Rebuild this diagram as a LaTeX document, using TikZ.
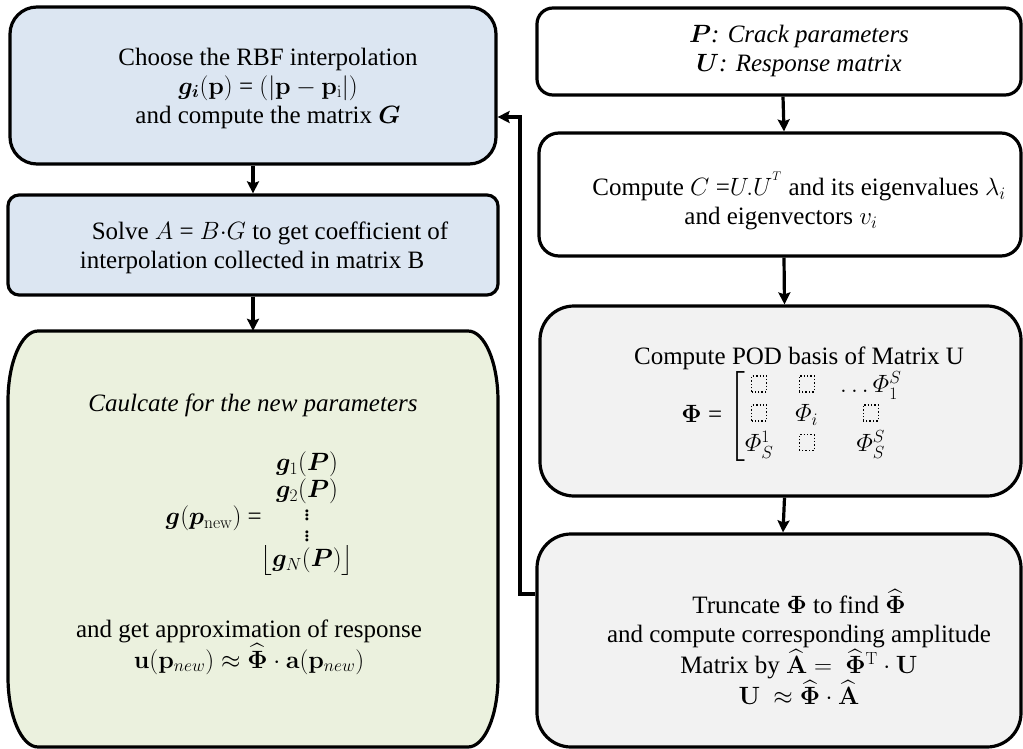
\RequirePackage{fix-cm}
\documentclass[tikz,border=0pt]{standalone}
\usepackage{amsmath,amssymb}
\usepackage{bm}
\usepackage[no-math]{fontspec}
\setmainfont{Liberation Serif}
\usetikzlibrary{arrows.meta,calc}
\definecolor{bluef}{HTML}{DCE6F2}
\definecolor{greenf}{HTML}{EBF1DE}
\definecolor{grayf}{HTML}{F2F2F2}
\newcommand{\dsq}{\tikz[baseline=-1pt]\draw[dotted,line width=1.4pt] (0,0) rectangle (15pt,16pt);}
\begin{document}
\begin{tikzpicture}[x=1pt,y=1pt,
  font=\fontsize{25}{29}\selectfont,
  boxline/.style={draw=black,line width=3.2pt},
  box/.style={boxline,rounded corners=#1,inner sep=0pt},
  txt/.style={align=center,inner sep=0pt},
  arr/.style={line width=3.2pt,-{Stealth[length=12pt,width=12pt,inset=2pt]}}]
\useasboundingbox (0,0) rectangle (1023,-749);

% left column
\node[box=27pt,fill=bluef,minimum width=486pt,minimum height=157pt] (B1) at (253,-85.5) {};
\node[box=11pt,fill=bluef,minimum width=490pt,minimum height=100pt] (B2) at (253,-245) {};
\node[inner sep=0pt,minimum width=490pt,minimum height=416pt] (B3) at (253,-539) {};
\draw[boxline,fill=greenf] (38,-331) -- (468,-331)
  arc[start angle=90,end angle=0,x radius=30,y radius=70] -- (498,-677)
  arc[start angle=0,end angle=-90,x radius=30,y radius=70] -- (38,-747)
  arc[start angle=270,end angle=180,x radius=30,y radius=70] -- (8,-401)
  arc[start angle=180,end angle=90,x radius=30,y radius=70] -- cycle;

% right column
\node[box=16pt,fill=white,minimum width=484pt,minimum height=87pt] (R1) at (779,-51.5) {};
\node[box=20pt,fill=white,minimum width=482pt,minimum height=123pt] (R2) at (780,-194.5) {};
\node[box=34pt,fill=grayf,minimum width=481pt,minimum height=190pt] (R3) at (780.5,-401) {};
\node[box=34pt,fill=grayf,minimum width=484pt,minimum height=213pt] (R4) at (779,-640.5) {};

% texts
\node[txt] (T1) at (268,-88) {Choose the RBF interpolation\\
  $\bm{g_i}(\mathbf{p})$ = $(|\mathbf{p}-\mathbf{p}_{\mathrm{i}}|)$\\
  and compute the matrix $\bm{G}$};
\node[txt] (T2) at (252,-248) {\rule{36pt}{0pt}Solve $A$ = $B{\cdot}G$ to get coefficient of\\
  interpolation collected in matrix B};
\node[txt] (T3) at (253,-405) {\textit{Caulcate for the new parameters}};
\node[txt,anchor=east] (T4) at (262,-518) {$\bm{g}(\bm{p}_{\mathrm{new}})$ =};
\node[txt] (T5) at (307,-514) {$\bm{g}_1(\bm{P})$\\[-2pt] $\bm{g}_2(\bm{P})$\\[-6pt] $\vdots$\\[-8pt] $\vdots$\\[-4pt] $\big\lfloor\bm{g}_N(\bm{P})\big\rfloor$};
\node[txt] (T6) at (249,-647) {and get approximation of response\\
  $\mathbf{u}(\mathbf{p}_{new}) \approx \widehat{\mathbf{\Phi}}\cdot\mathbf{a}(\mathbf{p}_{new})$};

\node[txt] (S1) at (799,-51) {\textit{$\bm{P}$: Crack parameters}\\ \textit{$\bm{U}$: Response matrix}};
\node[txt] (S2) at (799,-201) {Compute $C$ =$U.U^{^{T}}$ and its eigenvalues $\lambda_i$\\
  and eigenvectors $v_i$\rule{36pt}{0pt}};
\node[txt] (S3) at (799,-358) {Compute POD basis of Matrix U};
\node[txt] (S4) at (792,-416) {$\mathbf{\Phi}$ = $\left[\begin{array}{@{}c@{\hspace{22pt}}c@{\hspace{22pt}}c@{}}
  \dsq & \dsq & \dots\varPhi_1^S\\
  \dsq & \varPhi_i & \dsq\\
  \varPhi_S^1 & \dsq & \varPhi_S^S
  \end{array}\right.$};
\node[txt] (S5) at (799,-647) {Truncate $\mathbf{\Phi}$ to find $\widehat{\mathbf{\Phi}}$\\
  and compute corresponding amplitude\\
  Matrix by $\widehat{\mathbf{A}} = \ \widehat{\mathbf{\Phi}}^{\mathrm{T}}\cdot\mathbf{U}$\\
  $\mathbf{U}\ \approx \widehat{\mathbf{\Phi}}\cdot\widehat{\mathbf{A}}$};

% connectors
\draw[arr] (B1.south) -- (B2.north);
\draw[arr] (B2.south) -- (B3.north);
\draw[arr] ([xshift=4pt]R1.south) -- ([xshift=4pt]R2.north);
\draw[arr] ([xshift=4pt]R2.south) -- ([xshift=4pt]R3.north);
\draw[arr] ([xshift=4pt]R3.south) -- ([xshift=4pt]R4.north);
\coordinate (fbA) at (520,-594);
\coordinate (fbB) at (520,-117);
\draw[arr] (fbA -| R4.west) -- (fbA) -- (fbB) -- (fbB -| B1.east);
\end{tikzpicture}
\end{document}
